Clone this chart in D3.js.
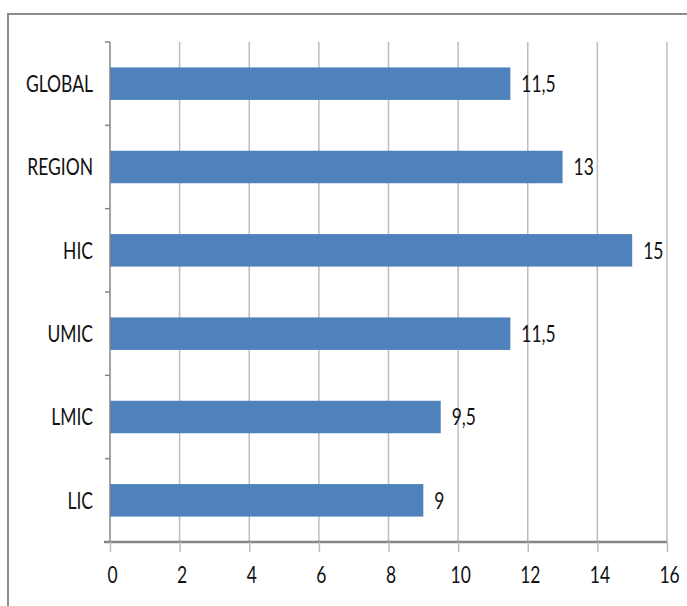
<!DOCTYPE html>
<html>
<head>
<meta charset="utf-8">
<script src="https://cdn.jsdelivr.net/npm/d3@7"></script>
<style>
  html, body { margin: 0; padding: 0; background: #fff; }
  svg { display: block; }
  text { font-family: Lato, "Liberation Sans", Arial, sans-serif; font-weight: 400; fill: #111; }
</style>
</head>
<body>
<svg id="chart" width="687" height="606"></svg>
<script>
// Indicator values by income group
const categories = ["GLOBAL", "REGION", "HIC", "UMIC", "LMIC", "LIC"];
const values = [11.5, 13, 15, 11.5, 9.5, 9];
const valueLabels = ["11,5", "13", "15", "11,5", "9,5", "9"];
const xTicks = [0, 2, 4, 6, 8, 10, 12, 14, 16];

const svg = d3.select("#chart");
const W = 687, H = 606;
const plot = { left: 110, right: 667, top: 42, bottom: 542 };
const FS = 23;          // label font size
const NARROW = 0.76;    // horizontal condensing of label glyphs

// chart frame
svg.append("rect")
  .attr("x", 8).attr("y", 14)
  .attr("width", W + 10).attr("height", H + 10)
  .attr("fill", "#fff").attr("stroke", "#8c8c8c").attr("stroke-width", 2);

const x = d3.scaleLinear().domain([0, 16]).range([plot.left, plot.right]);
const y = d3.scaleBand().domain(categories).range([plot.top, plot.bottom]).paddingInner(0.61).paddingOuter(0.305);

// vertical gridlines
svg.append("g").selectAll("line").data(xTicks.slice(1)).join("line")
  .attr("x1", d => x(d)).attr("x2", d => x(d))
  .attr("y1", plot.top).attr("y2", plot.bottom)
  .attr("stroke", "#bdbdbd").attr("stroke-width", 1.5);

// bars
svg.append("g").selectAll("rect").data(values).join("rect")
  .attr("x", x(0))
  .attr("y", (d, i) => y(categories[i]))
  .attr("width", d => x(d) - x(0))
  .attr("height", y.bandwidth())
  .attr("fill", "#4f81bd");

// category axis
const yEdge = d3.scaleLinear().domain([0, categories.length]).range([plot.top, plot.bottom]);
const gy = svg.append("g");
gy.append("line").attr("x1", plot.left).attr("x2", plot.left)
  .attr("y1", plot.top).attr("y2", plot.bottom)
  .attr("stroke", "#868686").attr("stroke-width", 1.5);
gy.selectAll("line.tk").data(d3.range(categories.length)).join("line").attr("class", "tk")
  .attr("x1", plot.left - 5).attr("x2", plot.left)
  .attr("y1", d => yEdge(d)).attr("y2", d => yEdge(d))
  .attr("stroke", "#868686").attr("stroke-width", 1.5);
gy.selectAll("text").data(categories).join("text")
  .attr("transform", d => `translate(${plot.left - 17},${y(d) + y.bandwidth() / 2}) scale(${NARROW},1)`)
  .attr("dy", "0.36em")
  .attr("text-anchor", "end")
  .attr("font-size", FS)
  .text(d => d);

// value axis
const xAxis = d3.axisBottom(x).tickValues(xTicks).tickSize(10).tickPadding(15).tickSizeOuter(0);
const gx = svg.append("g").attr("transform", `translate(0,${plot.bottom})`).call(xAxis);
gx.select(".domain").remove();
gx.insert("line", ":first-child").attr("x1", plot.left - 6).attr("x2", plot.right)
  .attr("stroke", "#868686").attr("stroke-width", 2.5);
gx.selectAll(".tick line").attr("stroke", "#bdbdbd").attr("stroke-width", 1.5);
gx.selectAll(".tick text")
  .attr("font-size", FS)
  .attr("font-family", "Lato, Liberation Sans, Arial, sans-serif")
  .attr("font-weight", 400)
  .attr("fill", "#111")
  .attr("transform", `translate(2,0) scale(${NARROW},1)`);

// value labels
svg.append("g").selectAll("text").data(values).join("text")
  .attr("transform", (d, i) => `translate(${x(d) + 11},${y(categories[i]) + y.bandwidth() / 2}) scale(${NARROW},1)`)
  .attr("dy", "0.36em")
  .attr("font-size", FS)
  .text((d, i) => valueLabels[i]);
</script>
</body>
</html>
